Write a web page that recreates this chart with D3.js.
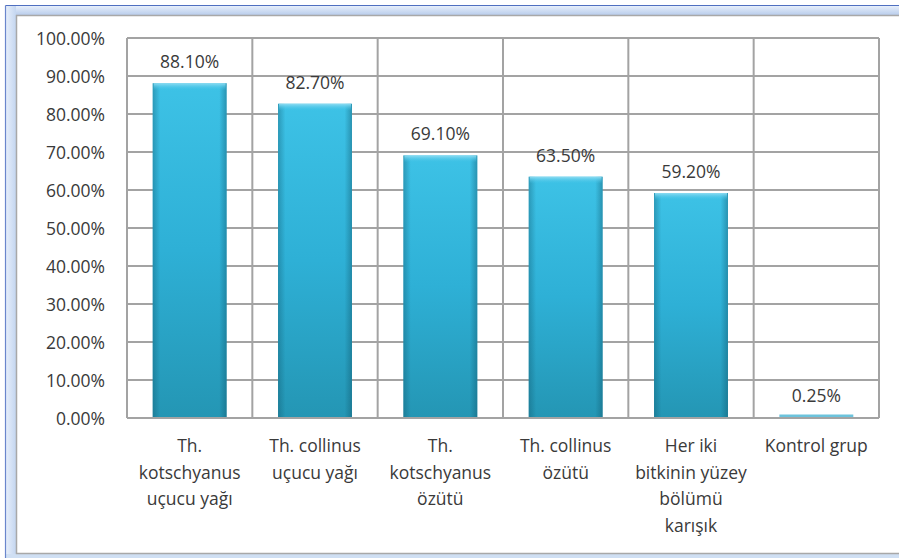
<!DOCTYPE html>
<html><head><meta charset="utf-8">
<script src="https://cdn.jsdelivr.net/npm/d3@7/dist/d3.min.js"></script>
<style>html,body{margin:0;padding:0;background:#fff;}svg{display:block;}</style>
</head><body>
<svg id="chart" width="899" height="558"></svg>
<script>
const categories = [
  ["Th.", "kotschyanus", "uçucu yağı"],
  ["Th. collinus", "uçucu yağı"],
  ["Th.", "kotschyanus", "özütü"],
  ["Th. collinus", "özütü"],
  ["Her iki", "bitkinin yüzey", "bölümü", "karışık"],
  ["Kontrol grup"]
];
const values = [88.10, 82.70, 69.10, 63.50, 59.20, 0.25];
const valueLabels = ["88.10%", "82.70%", "69.10%", "63.50%", "59.20%", "0.25%"];
const yTicks = [0, 10, 20, 30, 40, 50, 60, 70, 80, 90, 100];

const svg = d3.select("#chart");
const W = 899, H = 558;
const font = "'Open Sans', Lato, sans-serif";
const fs = 17.5;

// outer frame
const defs = svg.append("defs");
const gTop = defs.append("linearGradient").attr("id","frameTop").attr("x1",0).attr("y1",0).attr("x2",0).attr("y2",1);
gTop.append("stop").attr("offset","0").attr("stop-color","#e6eefa");
gTop.append("stop").attr("offset","1").attr("stop-color","#b9cdec");
const gLeft = defs.append("linearGradient").attr("id","frameLeft").attr("x1",0).attr("y1",0).attr("x2",1).attr("y2",0);
gLeft.append("stop").attr("offset","0").attr("stop-color","#e6eefa");
gLeft.append("stop").attr("offset","1").attr("stop-color","#c4d6f0");

svg.append("rect").attr("x",6).attr("y",6).attr("width",W-6).attr("height",9).attr("fill","url(#frameTop)");
svg.append("rect").attr("x",6).attr("y",6).attr("width",10).attr("height",H-6).attr("fill","url(#frameLeft)");
svg.append("rect").attr("x",6).attr("y",554).attr("width",W-6).attr("height",4).attr("fill","#cfdff3");
svg.append("line").attr("x1",5.5).attr("x2",W).attr("y1",5.5).attr("y2",5.5).attr("stroke","#4f6fc0").attr("stroke-width",1.2);
svg.append("line").attr("x1",5.5).attr("x2",5.5).attr("y1",5.5).attr("y2",H).attr("stroke","#6a86cc").attr("stroke-width",1.2);
svg.append("rect").attr("x",17).attr("y",16).attr("width",W-17).attr("height",537).attr("fill","#fff");
svg.append("path").attr("d",`M${W},15.5 H16.5 V553.5 H${W}`).attr("fill","none").attr("stroke","#a8a8a8").attr("stroke-width",1.5);

// plot
const pL = 127, pR = 879, pT = 38, pB = 418;
const x = d3.scaleBand().domain(d3.range(categories.length)).range([pL, pR]).paddingInner(0).paddingOuter(0);
const y = d3.scaleLinear().domain([0, 100]).range([pB, pT]);

const grid = svg.append("g");
grid.selectAll("line.h").data(yTicks).join("line")
  .attr("x1", pL).attr("x2", pR)
  .attr("y1", d => y(d)).attr("y2", d => y(d))
  .attr("stroke", "#a3a3a3").attr("stroke-width", 2);
const vlines = d3.range(categories.length + 1).map(i => i < categories.length ? x(i) : pR);
grid.selectAll("line.v").data(vlines).join("line")
  .attr("x1", d => d).attr("x2", d => d)
  .attr("y1", pT).attr("y2", pB)
  .attr("stroke", "#a3a3a3").attr("stroke-width", 2);

// y axis labels
const yAxis = d3.axisLeft(y).tickValues(yTicks).tickFormat(d => d.toFixed(2) + "%").tickSize(0).tickPadding(0);
const ya = svg.append("g").attr("transform", `translate(105,0)`).call(yAxis);
ya.select(".domain").remove();
ya.selectAll("text").attr("font-family", font).attr("font-size", fs).attr("fill", "#3a3a3a").attr("dy", "0.35em");

// bar gradients
const gv = defs.append("linearGradient").attr("id","barV").attr("x1",0).attr("y1",0).attr("x2",0).attr("y2",1);
gv.append("stop").attr("offset","0").attr("stop-color","#3dc2e6");
gv.append("stop").attr("offset","0.5").attr("stop-color","#2eb0d6");
gv.append("stop").attr("offset","1").attr("stop-color","#2496b4");
const gh = defs.append("linearGradient").attr("id","barH").attr("x1",0).attr("y1",0).attr("x2",1).attr("y2",0);
gh.append("stop").attr("offset","0").attr("stop-color","#0d4f63").attr("stop-opacity",0.35);
gh.append("stop").attr("offset","0.1").attr("stop-color","#0d4f63").attr("stop-opacity",0.0);
gh.append("stop").attr("offset","0.9").attr("stop-color","#0d4f63").attr("stop-opacity",0.0);
gh.append("stop").attr("offset","1").attr("stop-color","#0d4f63").attr("stop-opacity",0.4);
const gb = defs.append("linearGradient").attr("id","bevel").attr("x1",0).attr("y1",0).attr("x2",0).attr("y2",1);
gb.append("stop").attr("offset","0").attr("stop-color","#8fdcf2");
gb.append("stop").attr("offset","1").attr("stop-color","#3fc2e6").attr("stop-opacity",0);

const bw = x.bandwidth() * 0.59;
const bars = svg.append("g");
const bx = i => x(i) + (x.bandwidth() - bw) / 2;
const barTop = d => Math.min(y(d), pB - 3.5);
bars.selectAll("rect.b").data(values).join("rect")
  .attr("x", (d,i) => bx(i)).attr("y", d => barTop(d))
  .attr("width", bw).attr("height", d => pB - 1 - barTop(d))
  .attr("fill", (d) => d > 5 ? "url(#barV)" : "#6cc3dc");
bars.selectAll("rect.h").data(values.filter(v => v > 5)).join("rect")
  .attr("x", (d,i) => bx(i)).attr("y", d => y(d))
  .attr("width", bw).attr("height", d => pB - 1 - y(d))
  .attr("fill", "url(#barH)");
bars.selectAll("rect.t").data(values.filter(v => v > 5)).join("rect")
  .attr("x", (d,i) => bx(i) + 1).attr("y", d => y(d))
  .attr("width", bw - 2).attr("height", 7)
  .attr("fill", "url(#bevel)");

// value labels
svg.append("g").selectAll("text").data(values).join("text")
  .attr("x", (d,i) => x(i) + x.bandwidth() / 2)
  .attr("y", d => y(d) - 15)
  .attr("text-anchor", "middle")
  .attr("font-family", font).attr("font-size", fs).attr("fill", "#3a3a3a")
  .text((d,i) => valueLabels[i]);

// category labels
const cl = svg.append("g");
categories.forEach((lines, i) => {
  const t = cl.append("text")
    .attr("x", x(i) + x.bandwidth() / 2)
    .attr("y", 452)
    .attr("text-anchor", "middle")
    .attr("font-family", font).attr("font-size", fs).attr("fill", "#3a3a3a");
  lines.forEach((ln, j) => {
    t.append("tspan").attr("x", x(i) + x.bandwidth() / 2).attr("y", 452 + j * 26.5).text(ln);
  });
});
</script>
</body></html>
